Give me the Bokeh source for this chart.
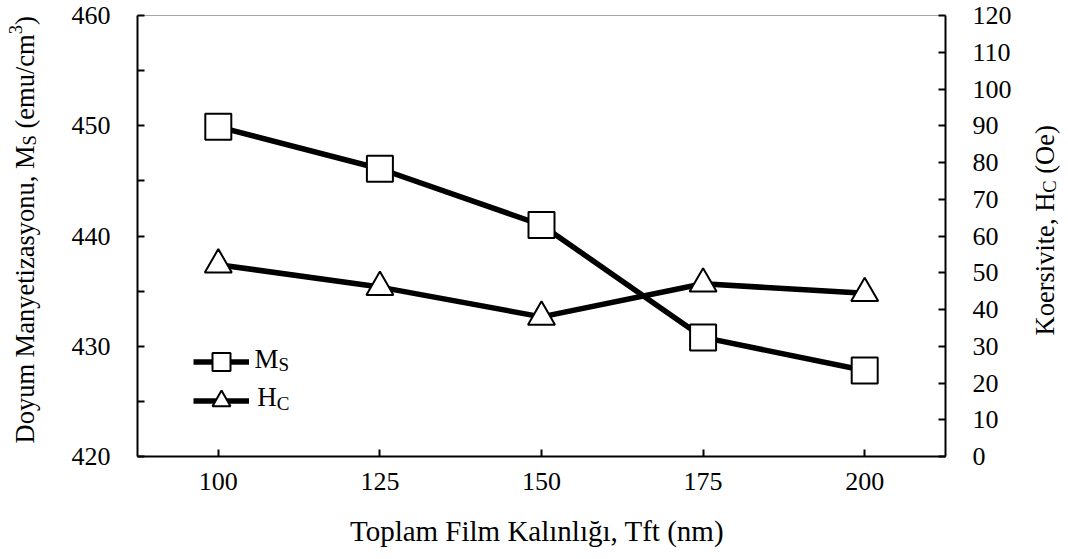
import math
from bokeh.plotting import figure
from bokeh.models import (Range1d, LinearAxis, FixedTicker, Label, Legend,
                          LegendItem, ColumnDataSource)
from bokeh.core.properties import value
from bokeh.embed import file_html
from bokeh.resources import INLINE

# ---------------- data ----------------
thickness = [100, 125, 150, 175, 200]
ms_values = [449.9, 446.1, 441.0, 430.8, 427.8]
hc_values = [52.2, 46.1, 38.0, 47.0, 44.4]

x_ticks = [100, 125, 150, 175, 200]
ms_ticks = [420, 430, 440, 450, 460]
ms_minor_ticks = [425, 435, 445, 455]
hc_ticks = [0, 10, 20, 30, 40, 50, 60, 70, 80, 90, 100, 110, 120]

FONT = "Liberation Serif"
W, H = 1068, 559
L, R, T, B = 137, 123, 15, 103
X0, X1 = 87.5, 212.5
Y0, Y1 = 420, 460
BASE_FIX = 11  # empirical baseline correction (px)

# Times-Roman advance widths (per 1000 em) for text layout
AFM = {" ": 250, "(": 333, ")": 333, ",": 250, "/": 278, "3": 500,
       "C": 667, "D": 722, "F": 556, "H": 722, "K": 722, "M": 889, "O": 722,
       "S": 556, "T": 611, "a": 444, "c": 444, "e": 444, "f": 333, "i": 278,
       "l": 278, "m": 778, "n": 500, "o": 500, "p": 500, "r": 333, "s": 389,
       "t": 278, "u": 500, "v": 500, "y": 500, "z": 444, "ı": 278, "ğ": 500}


def tw(s, size):
    return sum(AFM.get(ch, 500) for ch in s) * size / 1000.0


FW = W - L - R
FH = H - T - B


def dx(cx):
    """canvas pixel x -> data x"""
    return X0 + (cx - L) * (X1 - X0) / FW


def dy(cy):
    """canvas pixel y -> data y (left axis scale)"""
    return Y0 + (H - B - cy) * (Y1 - Y0) / FH


p = figure(width=W, height=H, output_backend="svg", toolbar_location=None,
           x_range=Range1d(X0, X1), y_range=Range1d(Y0, Y1),
           min_border_left=L, min_border_right=R, min_border_top=T,
           min_border_bottom=B)
p.extra_y_ranges = {"hc": Range1d(0, 120)}
p.xgrid.visible = False
p.ygrid.visible = False
p.outline_line_color = "#a6a6a6"
p.outline_line_width = 1
p.background_fill_color = "white"
p.border_fill_color = "white"


def style_axis(ax, standoff):
    ax.axis_line_color = "black"
    ax.axis_line_width = 2
    ax.major_tick_line_color = "black"
    ax.major_tick_line_width = 2
    ax.major_tick_in = 7
    ax.major_tick_out = 0
    ax.minor_tick_line_color = "black"
    ax.minor_tick_line_width = 2
    ax.minor_tick_in = 7
    ax.minor_tick_out = 0
    ax.major_label_text_font = FONT
    ax.major_label_text_font_size = "26px"
    ax.major_label_text_color = "black"
    ax.major_label_standoff = standoff


xax = p.xaxis[0]
xax.ticker = FixedTicker(ticks=x_ticks)
style_axis(xax, 16)
xax.minor_tick_line_color = None

yax = p.yaxis[0]
yax.ticker = FixedTicker(ticks=ms_ticks, minor_ticks=ms_minor_ticks)
style_axis(yax, 27)

rax = LinearAxis(y_range_name="hc", ticker=FixedTicker(ticks=hc_ticks))
style_axis(rax, 27)
rax.minor_tick_line_color = None
p.add_layout(rax, "right")

src = ColumnDataSource(dict(x=thickness, ms=ms_values, hc=hc_values))

hc_line = p.line("x", "hc", source=src, y_range_name="hc", line_width=5.5,
                 line_color="black", line_join="round")
ms_line = p.line("x", "ms", source=src, line_width=5.5, line_color="black",
                 line_join="round")
hc_pts = p.scatter("x", "hc", source=src, y_range_name="hc", marker="triangle",
                   size=27, fill_color="white", line_color="black", line_width=2)
ms_pts = p.scatter("x", "ms", source=src, marker="square", size=26,
                   fill_color="white", line_color="black", line_width=2)

# legends (one per row, glyph only; text drawn with labels for subscripts)
for rends, loc in (([ms_line, ms_pts], (55.7, 71.8)),
                   ([hc_line, hc_pts], (55.7, 33.5))):
    leg = Legend(items=[LegendItem(label=" ", renderers=rends)], location=loc,
                 glyph_width=56, glyph_height=45, padding=0, margin=0,
                 spacing=0, label_standoff=0, border_line_color=None,
                 background_fill_alpha=0, label_text_font_size="1px",
                 label_width=0, label_height=0)
    p.add_layout(leg)


def lab(x, y, text, size):
    p.add_layout(Label(x=x, y=y + BASE_FIX * 0.8, x_units="screen",
                       y_units="screen", text=text,
                       text_font=FONT, text_font_size=f"{size}px",
                       text_align="left", text_baseline="alphabetic",
                       text_color="black"))


# legend texts
lf, ls = 27, 19
lab(117, 89, "M", lf)
lab(117 + tw("M", lf), 83, "S", ls)
lab(119.7, 51, "H", lf)
lab(119.7 + tw("H", lf), 44.3, "C", ls)


def text_block(xs, ys, texts, sizes, angle, align="left"):
    s = ColumnDataSource(dict(x=xs, y=ys, t=texts, fs=[f"{v}px" for v in sizes]))
    p.text("x", "y", text="t", source=s, angle=angle, text_font=value(FONT),
           text_font_size="fs", text_align=align, text_baseline="alphabetic",
           text_color="black", level="overlay")


# bottom title
text_block([dx(536.5)], [dy(541.7 - BASE_FIX)], ["Toplam Film Kalınlığı, Tft (nm)"],
           [29], 0.0, align="center")


def vtitle(base_cx, start_cy, pieces, f):
    fs = f * 0.7
    xs, ys, ts, ss = [], [], [], []
    cy = start_cy
    for text, kind in pieces:
        if kind == "n":
            size, shift = f, 0.0
        elif kind == "sub":
            size, shift = fs, 0.2 * f
        else:
            size, shift = fs, -0.35 * f
        stripped = text.lstrip(" ")
        cy -= tw(text[:len(text) - len(stripped)], size)
        xs.append(dx(base_cx - BASE_FIX + shift))
        ys.append(dy(cy))
        ts.append(stripped)
        ss.append(size)
        cy -= tw(stripped, size)
    text_block(xs, ys, ts, ss, math.pi / 2)


vtitle(35, 443, [("Doyum Manyetizasyonu, M", "n"), ("S", "sub"),
                 (" (emu/cm", "n"), ("3", "sup"), (")", "n")], 26.5)
vtitle(1055, 335, [("Koersivite, H", "n"), ("C", "sub"), (" (Oe)", "n")], 26.5)

open("out.html", "w").write(file_html(p, INLINE))
